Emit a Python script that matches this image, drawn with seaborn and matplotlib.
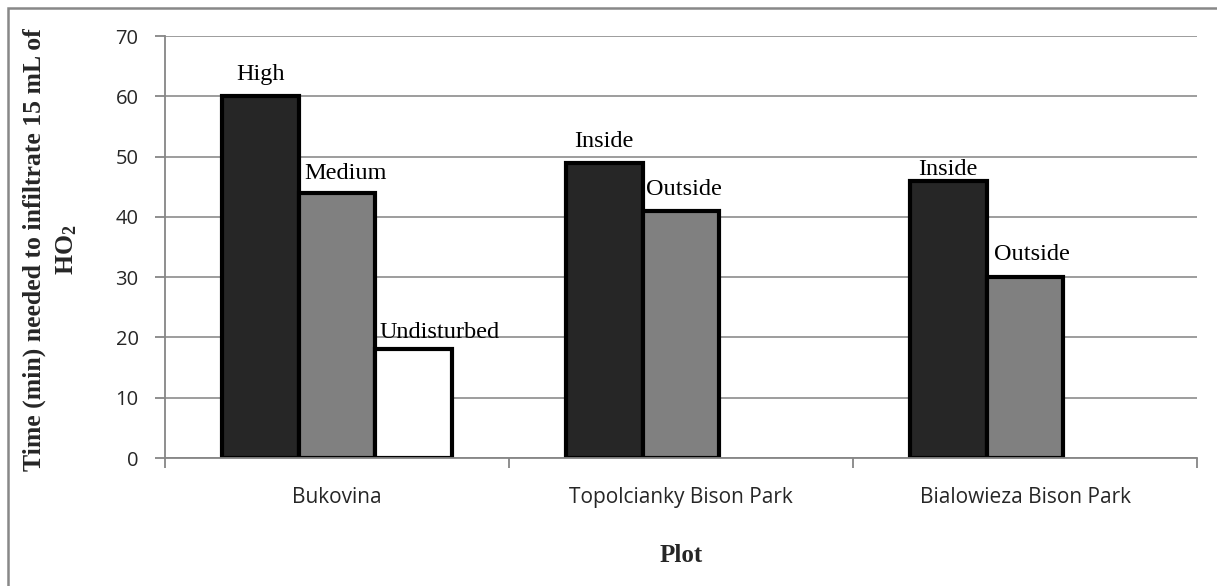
import numpy as np
import pandas as pd
import matplotlib
matplotlib.use("Agg")
import matplotlib.pyplot as plt
from matplotlib.patches import Rectangle
import seaborn as sns

# Data
sites = ["Bukovina", "Topolcianky Bison Park", "Bialowieza Bison Park"]
series_1 = [60, 49, 46]
series_2 = [44, 41, 30]
series_3 = [18, np.nan, np.nan]
labels_1 = ["High", "Inside", "Inside"]
labels_2 = ["Medium", "Outside", "Outside"]
labels_3 = ["Undisturbed", "", ""]
y_ticks = [0, 10, 20, 30, 40, 50, 60, 70]

rows = []
for s, (vals, labs) in enumerate([(series_1, labels_1), (series_2, labels_2), (series_3, labels_3)]):
    for site, v, lab in zip(sites, vals, labs):
        rows.append({"site": site, "series": f"S{s + 1}", "value": v, "label": lab})
df = pd.DataFrame(rows)

sns.set_theme(style="white")
plt.rcParams["mathtext.fontset"] = "custom"
plt.rcParams["mathtext.bf"] = "Liberation Serif:bold"
plt.rcParams["mathtext.rm"] = "Liberation Serif:bold"

fig = plt.figure(figsize=(12.17, 5.86), dpi=100)
W, H = 1217, 586
ax = fig.add_axes([165 / W, 1 - 458 / H, (1197 - 165) / W, (458 - 36) / H])

palette = {"S1": "#262626", "S2": "#808080", "S3": "#ffffff"}
sns.barplot(data=df.dropna(subset=["value"]), x="site", y="value", hue="series",
            hue_order=["S1", "S2", "S3"], order=sites, palette=palette,
            width=0.67, dodge=True, edgecolor="black", linewidth=3.0,
            legend=False, ax=ax, saturation=1)

# hand-placed text boxes above the bars: (dx, dy) nudges in pixels
nudges = [
    [(0, 16), (0, 16), (0, 6)],
    [(9, 14), (3, 16), (7, 17)],
    [(26, 11), (0, 0), (0, 0)],
]
px = 72 / 100
for cont, labs, nud in zip(ax.containers, [labels_1, labels_2, labels_3], nudges):
    for bar, lab, (dx, dy) in zip(cont, labs, nud):
        h = bar.get_height()
        if not lab or np.isnan(h):
            continue
        ax.annotate(lab, (bar.get_x() + bar.get_width() / 2, h),
                    xytext=(dx * px, dy * px), textcoords="offset points",
                    ha="center", va="baseline", fontsize=17.5,
                    family="Liberation Serif", color="black")

ax.set_ylim(0, 70)
ax.set_xlim(-0.5, 2.5)
ax.set_yticks(y_ticks)
ax.set_yticklabels([str(t) for t in y_ticks], family="Open Sans", fontsize=14.5)
ax.yaxis.grid(True, color="#959595", linewidth=1.3)
ax.set_axisbelow(True)

for sp in ["top", "right"]:
    ax.spines[sp].set_visible(False)
for sp in ["left", "bottom"]:
    ax.spines[sp].set_color("#868686")
    ax.spines[sp].set_linewidth(1.3)

ax.tick_params(axis="y", which="major", left=True, length=7, width=1.3,
               color="#868686", pad=12)
# category boundary ticks on the x axis
ax.set_xticks([-0.5, 0.5, 1.5, 2.5])
ax.set_xticklabels([])
ax.tick_params(axis="x", which="major", bottom=True, length=7, width=1.3,
               color="#868686")
ax.set_xticks([0, 1, 2], minor=True)
ax.set_xticklabels(sites, minor=True, family="Open Sans", fontsize=15)
ax.tick_params(axis="x", which="minor", bottom=False, length=0, pad=21)

ax.set_xlabel("Plot", family="Liberation Serif", fontweight="bold", fontsize=18,
              labelpad=26)
ax.set_ylabel("")

fig.text(34 / W, 1 - 250 / H, "Time (min) needed to infiltrate 15 mL of",
         rotation=90, ha="center", va="center", family="Liberation Serif",
         fontweight="bold", fontsize=18.5)
fig.text(66 / W, 1 - 250 / H, r"$\mathbf{HO_2}$",
         rotation=90, ha="center", va="center", fontsize=18.5)

# outer chart frame
fig.patches.append(Rectangle((8 / W, -0.2), 1.2, 1.2 - 8 / H,
                             transform=fig.transFigure, fill=False,
                             edgecolor="#888888", linewidth=1.8))

fig.savefig("out.png", dpi=100)
